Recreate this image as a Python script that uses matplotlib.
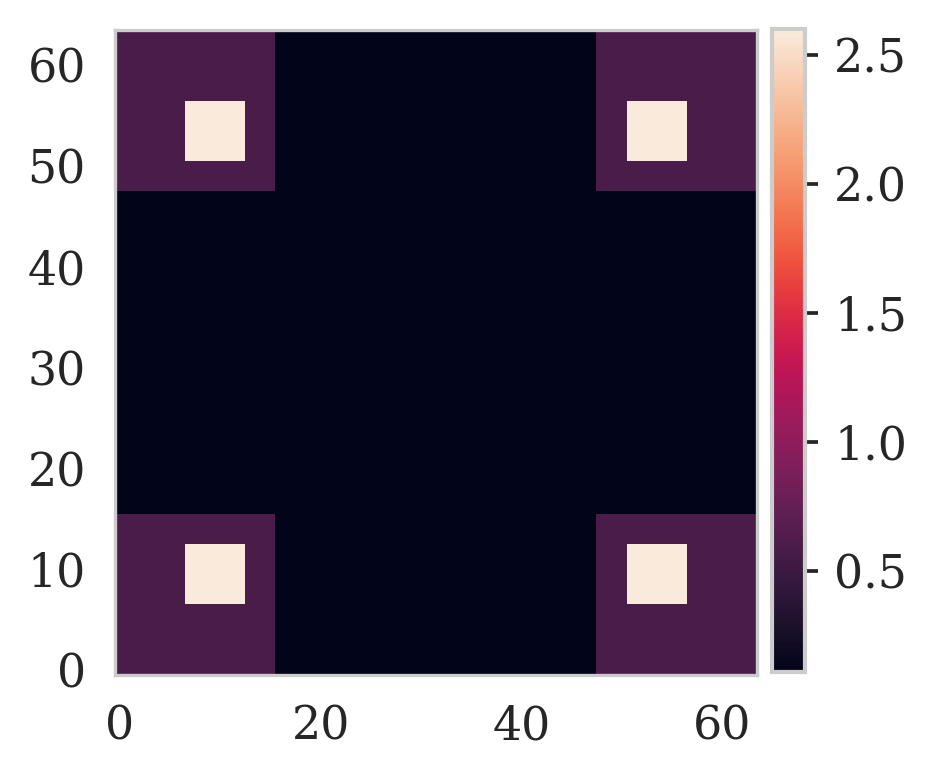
import numpy as np
import matplotlib
matplotlib.use("Agg")
import matplotlib.pyplot as plt
import seaborn as sns

# grid values
n = 64
background = 0.1
corner_value = 0.6
peak_value = 2.6
corner_blocks = [(0, 16), (48, 64)]      # row / col ranges of the corner blocks
peak_blocks = [(7, 13), (51, 57)]        # row / col ranges of the bright squares
xticks = [0, 20, 40, 60]
yticks = [0, 10, 20, 30, 40, 50, 60]
cbar_ticks = [0.5, 1.0, 1.5, 2.0, 2.5]

field = np.full((n, n), background)
for r0, r1 in corner_blocks:
    for c0, c1 in corner_blocks:
        field[r0:r1, c0:c1] = corner_value
for r0, r1 in peak_blocks:
    for c0, c1 in peak_blocks:
        field[r0:r1, c0:c1] = peak_value

sns.set_style("whitegrid")
plt.rcParams['font.family'] = ['DejaVu Serif']
plt.rcParams['font.size'] = 11

fig = plt.figure(figsize=(9.35 / 3, 7.74 / 3), dpi=300)
ax = fig.add_axes([115 / 935, 1 - 675 / 774, 642 / 935, 645 / 774])
cax = fig.add_axes([772 / 935, 1 - 672 / 774, 33 / 935, 643 / 774])

im = ax.imshow(field, origin='lower', cmap='rocket', vmin=0.11, vmax=2.6,
               interpolation='nearest', aspect='auto')
ax.grid(False)
ax.set_xticks(xticks)
ax.set_yticks(yticks)
ax.tick_params(length=0, pad=7, labelsize=11, labelcolor='0.15')
for s in ax.spines.values():
    s.set_color('0.8')

cb = fig.colorbar(im, cax=cax)
cb.set_ticks(cbar_ticks)
cb.ax.tick_params(length=3, width=0.9, pad=4, color='0.15', labelsize=11,
                  labelcolor='0.15')
cb.outline.set_edgecolor('0.8')
cb.outline.set_linewidth(1.0)

fig.savefig('out.png', dpi=300)
